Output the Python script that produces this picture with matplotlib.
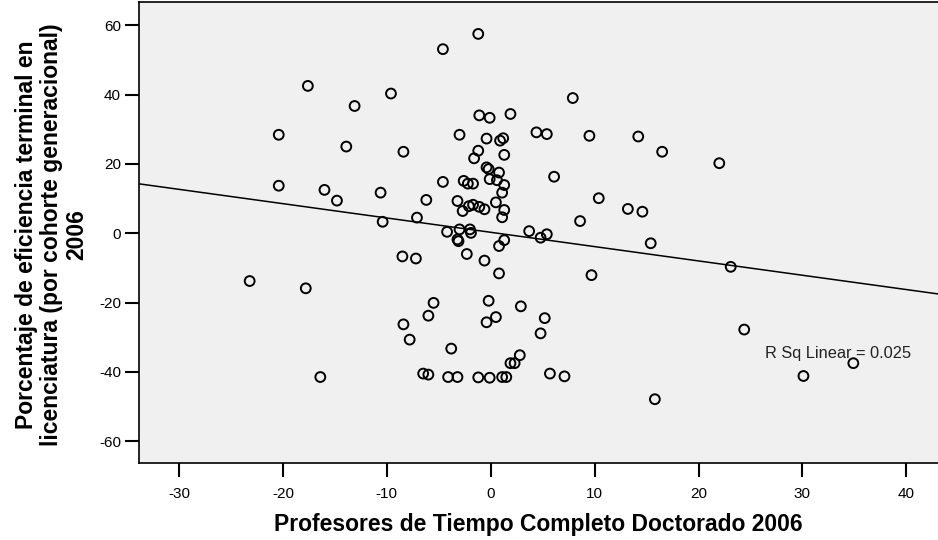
import numpy as np
import matplotlib
matplotlib.use('Agg')
import matplotlib.pyplot as plt

plt.rcParams['font.family'] = ['Liberation Sans', 'DejaVu Sans']
plt.rcParams['axes.unicode_minus'] = False

# Profesores de Tiempo Completo Doctorado 2006 (centered)
prof_doct = [
    -4.6, -1.2, -17.6, -9.6, -13.1, -20.4, -13.9, -8.4, -3.0, -1.1,
    -1.2, -1.6, -20.4, -16.0, -14.8, -10.6, -6.2, -10.4, -7.1, -4.6,
    -2.6, -2.2, -1.7, -3.2, -2.7, -2.1, -1.7, -1.1, -0.6, -4.2,
    -3.0, -2.0, -1.9, -3.2, -3.1, -2.3, -8.5, -7.2, 7.9, -0.1,
    1.9, -0.4, 0.9, 1.2, 4.4, 5.4, 9.5, 1.3, -0.4, -0.2,
    0.8, -0.1, 0.6, 1.3, 1.1, 6.1, 10.4, 0.5, 1.3, 1.1,
    8.6, 3.7, 4.8, 5.4, 1.3, 0.8, -0.6, 0.8, -0.2, 2.9,
    0.5, -0.4, -23.2, -17.8, -5.5, -6.0, -8.4, -7.8, -3.8, -16.4,
    -6.5, -6.0, -4.1, -3.2, -1.2, 9.7, 5.2, 4.8, 2.8, 2.3,
    1.9, -0.1, 1.1, 1.5, 5.7, 7.1, 14.2, 16.5, 22.0, 13.2,
    14.6, 15.4, 23.1, 24.4, 34.9, 30.1, 15.8,
]

# Porcentaje de eficiencia terminal en licenciatura 2006 (centered)
eficiencia = [
    53.1, 57.5, 42.5, 40.3, 36.7, 28.4, 25.0, 23.5, 28.4, 34.0,
    23.8, 21.6, 13.7, 12.5, 9.4, 11.7, 9.6, 3.3, 4.5, 14.8,
    15.1, 14.3, 14.3, 9.3, 6.4, 7.8, 8.2, 7.6, 6.9, 0.4,
    1.1, 1.1, 0.1, -1.8, -2.3, -6.0, -6.7, -7.3, 39.0, 33.3,
    34.4, 27.3, 26.7, 27.4, 29.1, 28.6, 28.1, 22.6, 19.0, 18.5,
    17.5, 15.6, 15.3, 13.9, 11.7, 16.3, 10.1, 8.9, 6.7, 4.6,
    3.5, 0.6, -1.3, -0.3, -2.0, -3.7, -7.9, -11.6, -19.5, -21.1,
    -24.2, -25.7, -13.8, -15.9, -20.1, -23.8, -26.3, -30.7, -33.3, -41.5,
    -40.5, -40.8, -41.5, -41.5, -41.6, -12.1, -24.5, -28.9, -35.2, -37.5,
    -37.5, -41.7, -41.5, -41.5, -40.5, -41.3, 27.9, 23.5, 20.2, 7.0,
    6.2, -2.9, -9.7, -27.8, -37.5, -41.2, -47.9,
]

x_ticks = [-30, -20, -10, 0, 10, 20, 30, 40]
y_ticks = [-60, -40, -20, 0, 20, 40, 60]
r_sq_text = 'R Sq Linear = 0.025'

x = np.array(prof_doct)
y = np.array(eficiencia)
slope, intercept = np.polyfit(x, y, 1)

fig = plt.figure(figsize=(9.38, 5.40), dpi=100)
ax = fig.add_axes([0.1482, 0.1426, 0.8518, 0.853])
ax.set_facecolor('#f0f0f0')

xlim = (-33.85, 43.05)
ylim = (-66.3, 66.6)
xs = np.array(xlim)
ax.plot(xs, slope * xs + intercept, color='black', linewidth=1.1, zorder=2)
ax.scatter(x, y, s=50, facecolors='none', edgecolors='black',
           linewidths=1.4, zorder=3)

ax.text(26.4, -34.7, r_sq_text, fontsize=11.8, color='#222222',
        ha='left', va='center', zorder=4)

ax.set_xlim(*xlim)
ax.set_ylim(*ylim)
ax.set_xticks(x_ticks)
ax.set_yticks(y_ticks)
ax.tick_params(axis='both', direction='out', length=10, width=1.5,
               labelsize=11, colors='black')
ax.tick_params(axis='x', pad=7)
ax.tick_params(axis='y', pad=3)

for side in ['left', 'top', 'bottom']:
    ax.spines[side].set_color('black')
    ax.spines[side].set_linewidth(1.2)
ax.spines['right'].set_visible(False)

ax.set_xlabel('Profesores de Tiempo Completo Doctorado 2006',
              fontsize=16.5, fontweight='bold', labelpad=9)
ax.set_ylabel('Porcentaje de eficiencia terminal en\n'
              'licenciatura (por cohorte generacional)\n2006',
              fontsize=16.5, fontweight='bold', linespacing=1.1)
ax.yaxis.set_label_coords(-0.064, 0.495)

fig.savefig('out.png', dpi=100)
